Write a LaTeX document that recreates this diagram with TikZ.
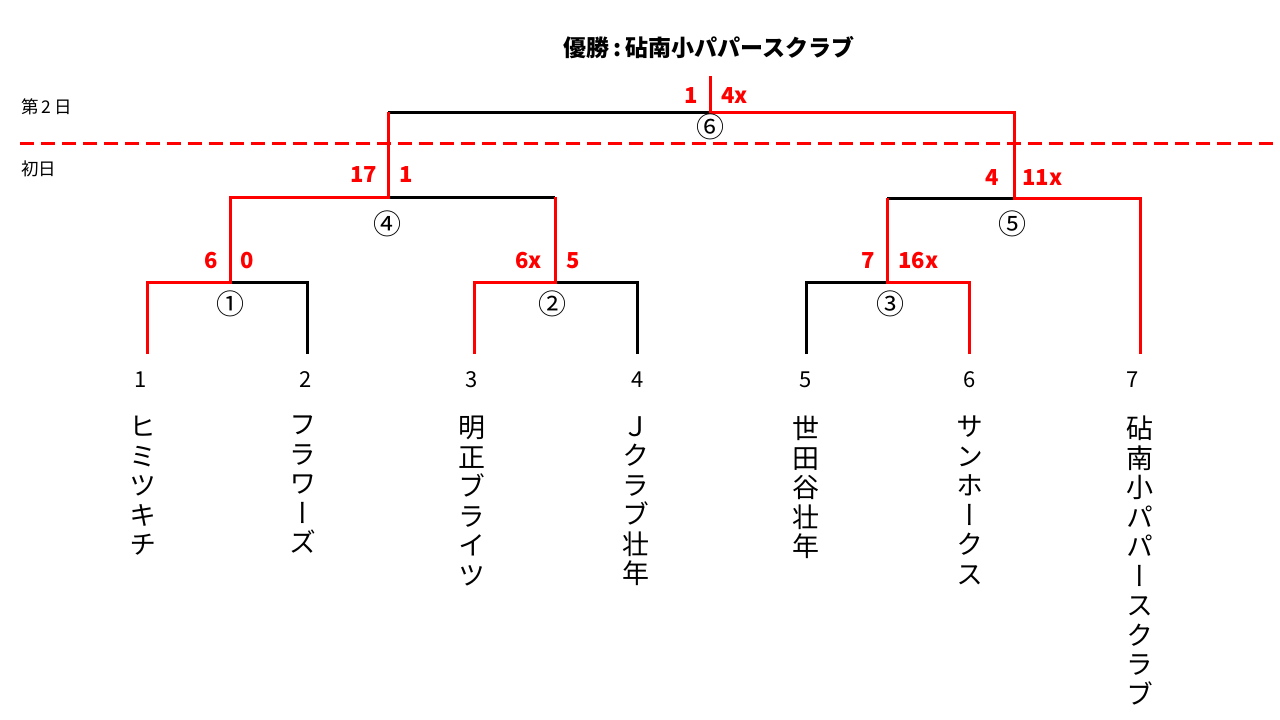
\documentclass[tikz,border=0pt]{standalone}
\usepackage{fontspec}
\setmainfont{Noto Sans}
\newfontfamily\jp{Noto Sans CJK JP}
\newfontfamily\jpv[RawFeature=+vert]{Noto Sans CJK JP}
\begin{document}
\begin{tikzpicture}[x=1pt,y=-1pt,
  win/.style={draw=red,line width=3pt},
  lose/.style={draw=black,line width=3pt},
  score/.style={text=red,font=\jp\bfseries\fontsize{22}{24}\selectfont,inner sep=0pt},
  circ/.style={font=\jp\fontsize{28}{30}\selectfont,inner sep=0pt},
  seed/.style={font=\jp\fontsize{22}{24}\selectfont,inner sep=0pt},
  team/.style={font=\jpv\fontsize{27}{29.5}\selectfont,align=center,anchor=north,inner sep=0pt},
  day/.style={font=\jp\fontsize{17.5}{19}\selectfont,anchor=west,inner sep=0pt},
  sep/.style={draw=red,line width=3pt,dash pattern=on 14pt off 7pt}]
\useasboundingbox (0,0) rectangle (1280,720);
% leaves
\coordinate (l1) at (147,354);
\coordinate (l2) at (307,354);
\coordinate (l3) at (474,354);
\coordinate (l4) at (637,354);
\coordinate (l5) at (806,354);
\coordinate (l6) at (969,354);
\coordinate (l7) at (1140,354);
% match centres
\coordinate (m1) at (230,282);
\coordinate (m2) at (555,282);
\coordinate (m3) at (887,282);
\coordinate (m4) at (388,197);
\coordinate (m5) at (1014,198);
\coordinate (m6) at (710,112);
\coordinate (top) at (710,76);
% black (losing) lines
\draw[lose] (m1) -| (l2);
\draw[lose] (m2) -| (l4);
\draw[lose] (l5) |- (m3);
\draw[lose] (m4) -- (m4 -| m2);
\draw[lose] (m5 -| m3) -- (m5);
\draw[lose] (m6 -| m4) -- (m6);
% red (winning) lines
\draw[win] (l1) |- (m1) -- (m4 -| m1) -- (m4) -- (m6 -| m4);
\draw[win] (l3) |- (m2) -- (m4 -| m2);
\draw[win] (l6) |- (m3) -- (m5 -| m3);
\draw[win] (l7) |- (m5) -- (m6 -| m5) -- (m6) -- (top);
% day separator
\coordinate (dl) at (20,143);
\coordinate (dr) at (1280,143);
\draw[sep] (dl) -- (dr);
\node[day] (d2) at (21,107) {第\,2\,日};
\node[day] (d1) at (21,169) {初日};
% title
\node[font=\jp\bfseries\fontsize{23}{26}\selectfont,inner sep=0pt] (title) at (709,48) {優勝\,:\,砧南小パパースクラブ};
% scores
\node[score,anchor=east] (s6a) at (698,96) {1};
\node[score,anchor=west] (s6b) at (721,96) {4x};
\node[score,anchor=east] (s4a) at (377,175) {17};
\node[score,anchor=west] (s4b) at (399,175) {1};
\node[score,anchor=east] (s5a) at (999,178) {4};
\node[score,anchor=west] (s5b) at (1022,178) {11x};
\node[score,anchor=east] (s1a) at (218,261) {6};
\node[score,anchor=west] (s1b) at (240,261) {0};
\node[score,anchor=east] (s2a) at (542,261) {6x};
\node[score,anchor=west] (s2b) at (566,261) {5};
\node[score,anchor=east] (s3a) at (875,261) {7};
\node[score,anchor=west] (s3b) at (898,261) {16x};
% match numbers
\node[circ] (c1) at (230,304) {①};
\node[circ] (c2) at (552,304) {②};
\node[circ] (c3) at (890,304) {③};
\node[circ] (c4) at (387,224) {④};
\node[circ] (c5) at (1012,224) {⑤};
\node[circ] (c6) at (710,127) {⑥};
% seeds
\node[seed] (n1) at (141,380) {1};
\node[seed] (n2) at (306,380) {2};
\node[seed] (n3) at (472,380) {3};
\node[seed] (n4) at (638,380) {4};
\node[seed] (n5) at (806,380) {5};
\node[seed] (n6) at (970,380) {6};
\node[seed] (n7) at (1133,380) {7};
% teams
\node[team] (t1) at (143,416) {ヒ\\ミ\\ツ\\キ\\チ};
\node[team] (t2) at (303,416) {フ\\ラ\\ワ\\ー\\ズ};
\node[team] (t3) at (472,416) {明\\正\\ブ\\ラ\\イ\\ツ};
\node[team] (t4) at (636,416) {Ｊ\\ク\\ラ\\ブ\\壮\\年};
\node[team] (t5) at (806,416) {世\\田\\谷\\壮\\年};
\node[team] (t6) at (970,416) {サ\\ン\\ホ\\ー\\ク\\ス};
\node[team] (t7) at (1140,416) {砧\\南\\小\\パ\\パ\\ー\\ス\\ク\\ラ\\ブ};
\end{tikzpicture}
\end{document}
